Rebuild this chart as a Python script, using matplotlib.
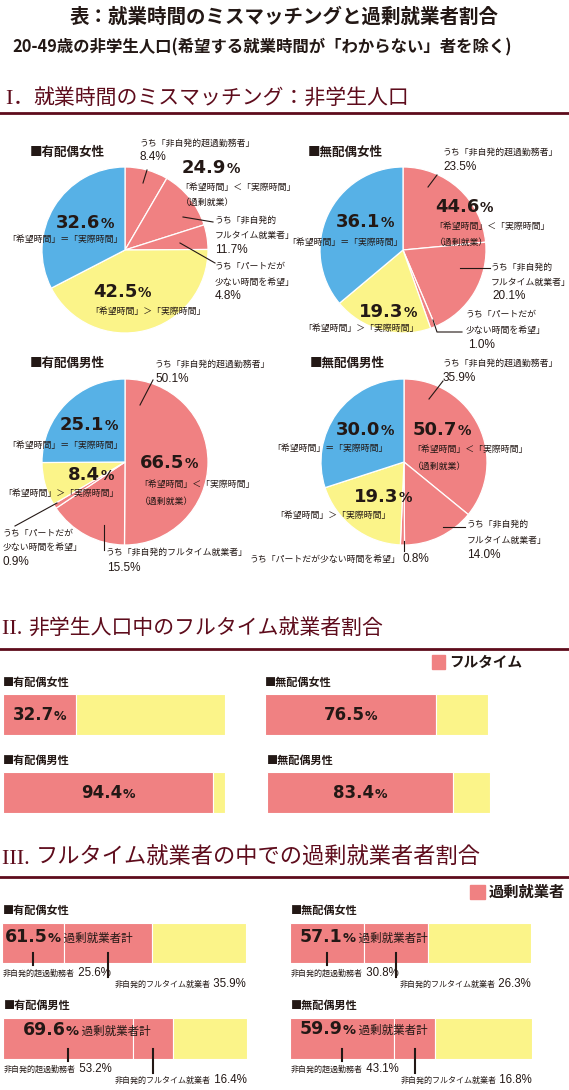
import matplotlib
matplotlib.use('Agg')
import matplotlib.pyplot as plt
from matplotlib.offsetbox import TextArea, HPacker, AnnotationBbox

plt.rcParams['font.family'] = ['Noto Sans CJK JP', 'DejaVu Sans']

# --- data (percent) ---
groups = ['有配偶女性', '無配偶女性', '有配偶男性', '無配偶男性']
# I. mismatch of working hours (pie)
over_overtime = [8.4, 23.5, 50.1, 35.9]   # うち「非自発的超過勤務者」
over_fulltime = [11.7, 20.1, 15.5, 14.0]  # うち「非自発的フルタイム就業者」
over_part = [4.8, 1.0, 0.9, 0.8]          # うち「パートだが少ない時間を希望」
over_total = [24.9, 44.6, 66.5, 50.7]     # 「希望時間」<「実際時間」
under_hours = [42.5, 19.3, 8.4, 19.3]     # 「希望時間」>「実際時間」
equal_hours = [32.6, 36.1, 25.1, 30.0]    # 「希望時間」=「実際時間」
# II. full-time share
fulltime_share = [32.7, 76.5, 94.4, 83.4]
# III. excess workers among full-timers
excess_total = [61.5, 57.1, 69.6, 59.9]
excess_overtime = [25.6, 30.8, 53.2, 43.1]
excess_fulltime = [35.9, 26.3, 16.4, 16.8]

W, H = 569, 1090
PINK = '#F08182'
YELLOW = '#FBF489'
BLUE = '#57B1E6'
MAROON = '#5E0C1C'
INK = '#231815'
CJK = ['Noto Sans CJK JP', 'DejaVu Sans']
NUM = 'Liberation Sans'
SMALL = 6.4

fig = plt.figure(figsize=(W / 100, H / 100), dpi=100)
fig.patch.set_facecolor('white')


def px_axes(x0, y0, w, h):
    return fig.add_axes([x0 / W, 1 - (y0 + h) / H, w / W, h / H])


# pies
pie_centers = [(125, 250), (403, 250), (125, 462), (404, 462)]
R = 83
for i, (cx, cy) in enumerate(pie_centers):
    a = px_axes(cx - R, cy - R, 2 * R, 2 * R)
    vals = [over_overtime[i], over_fulltime[i], over_part[i], under_hours[i], equal_hours[i]]
    a.pie(vals, colors=[PINK, PINK, PINK, YELLOW, BLUE], startangle=90, counterclock=False,
          wedgeprops=dict(edgecolor='white', linewidth=0.9))
    a.set_xlim(-1, 1)
    a.set_ylim(-1, 1)
    a.axis('off')

# II bars
bar2_boxes = [(3, 694, 222, 41), (265, 694, 223, 41), (3, 772, 222, 41), (267, 772, 223, 41)]
bar2_axes = []
for i, (x0, y0, w, h) in enumerate(bar2_boxes):
    a = px_axes(x0, y0, w, h)
    a.barh(0, fulltime_share[i], height=1, color=PINK, edgecolor='white', linewidth=0.8)
    a.barh(0, 100 - fulltime_share[i], left=fulltime_share[i], height=1, color=YELLOW,
           edgecolor='white', linewidth=0.8)
    a.set_xlim(0, 100)
    a.set_ylim(-0.5, 0.5)
    a.axis('off')
    bar2_axes.append(a)

# III bars
bar3_boxes = [(2, 923, 244, 40), (290, 923, 241, 40), (3, 1018, 244, 41), (290, 1018, 242, 41)]
bar3_axes = []
for i, (x0, y0, w, h) in enumerate(bar3_boxes):
    a = px_axes(x0, y0, w, h)
    a.barh(0, excess_overtime[i], height=1, color=PINK, edgecolor='white', linewidth=0.8)
    a.barh(0, excess_fulltime[i], left=excess_overtime[i], height=1, color=PINK,
           edgecolor='white', linewidth=0.8)
    a.barh(0, 100 - excess_total[i], left=excess_total[i], height=1, color=YELLOW,
           edgecolor='white', linewidth=0.8)
    a.set_xlim(0, 100)
    a.set_ylim(-0.5, 0.5)
    a.axis('off')
    tr = a.get_xaxis_transform()
    a.plot([excess_overtime[i] / 2] * 2, [0.25, -0.05], transform=tr, color=INK, lw=1.5, clip_on=False)
    mid2 = excess_overtime[i] + excess_fulltime[i] / 2
    a.plot([mid2] * 2, [0.25, -0.35], transform=tr, color=INK, lw=1.5, clip_on=False)
    bar3_axes.append(a)

# overlay for texts
ov = fig.add_axes([0, 0, 1, 1])
ov.set_xlim(0, W)
ov.set_ylim(H, 0)
ov.axis('off')
ov.patch.set_alpha(0)


def txt(x, y, s, size=SMALL, ha='left', **kw):
    kw.setdefault('color', INK)
    ov.text(x, y, s, fontsize=size, ha=ha, va='center', **kw)


def mixed(ax, x, y, parts, align=(0, 0.5), color=INK, sep=0):
    kids = [TextArea(s, textprops=dict(fontsize=fs, color=color, fontweight=fw, family=fam))
            for s, fs, fw, fam in parts]
    box = HPacker(children=kids, align='baseline', pad=0, sep=sep)
    ax.add_artist(AnnotationBbox(box, (x, y), xycoords='data', frameon=False,
                                 box_alignment=align, pad=0))


def pct(ax, x, y, val, size=13, align=(0, 0.5), tail=None):
    parts = [(f'{val:.1f}', size, 'bold', 'DejaVu Sans'), ('%', size * 0.75, 'bold', 'DejaVu Sans')]
    if tail:
        parts.append((tail, 8.3, 'normal', CJK))
    mixed(ax, x, y, parts, align=align)


def line(xs, ys, lw=0.8):
    ov.plot(xs, ys, color=INK, lw=lw)


# titles
txt(284, 17, '表：就業時間のミスマッチングと過剰就業者割合', 14, ha='center', fontweight='bold')
txt(262, 47, '20-49歳の非学生人口(希望する就業時間が「わからない」者を除く)', 11.8, ha='center',
    fontweight='bold')

# section headers
mixed(ov, 5, 98, [('I', 16, 'normal', 'Liberation Serif'), ('．', 15, 'normal', CJK),
                  ('就業時間のミスマッチング：非学生人口', 15, 'normal', CJK)], color=MAROON)
ov.plot([0, W], [113, 113], color=MAROON, lw=2)
mixed(ov, 2, 628, [('II. ', 16, 'normal', 'Liberation Serif'),
                   ('非学生人口中のフルタイム就業者割合', 15, 'normal', CJK)], color=MAROON)
ov.plot([0, W], [649, 649], color=MAROON, lw=2)
mixed(ov, 2, 857, [('III. ', 16, 'normal', 'Liberation Serif'),
                   ('フルタイム就業者の中での過剰就業者者割合', 16, 'normal', CJK)], color=MAROON)
ov.plot([0, W], [877, 877], color=MAROON, lw=2)

# ---- pie labels ----
EQ = '「希望時間」＝「実際時間」'
LT = '「希望時間」＜「実際時間」'
GT = '「希望時間」＞「実際時間」'
OVR = '（過剰就業）'

# 有配偶女性
txt(30, 152, '■' + groups[0], 9, fontweight='bold')
txt(140, 143, 'うち「非自発的超過勤務者」')
txt(140, 157, f'{over_overtime[0]}%', 8.5, family=NUM)
line([147, 143], [170, 183])
pct(ov, 182, 168, over_total[0])
txt(180, 187, LT)
txt(181, 202, OVR)
line([183, 213], [217, 222])
txt(215, 220, 'うち「非自発的')
txt(215, 235, 'フルタイム就業者」')
txt(215, 250, f'{over_fulltime[0]}%', 8.5, family=NUM)
line([180, 215], [243, 263])
txt(215, 267, 'うち「パートだが')
txt(215, 282, '少ない時間を希望」')
txt(215, 296, f'{over_part[0]}%', 8.5, family=NUM)
pct(ov, 85, 223, equal_hours[0], align=(0.5, 0.5))
txt(65, 239, EQ, ha='center')
pct(ov, 122, 292, under_hours[0], align=(0.5, 0.5))
txt(148, 311, GT, ha='center')

# 無配偶女性
txt(308, 152, '■' + groups[1], 9, fontweight='bold')
txt(443, 152, 'うち「非自発的超過勤務者」')
txt(443, 167, f'{over_overtime[1]}%', 8.5, family=NUM)
line([428, 437], [187, 175])
pct(ov, 435, 207, over_total[1])
txt(434, 226, LT)
txt(435, 242, OVR)
line([460, 490], [268, 268])
txt(491, 267, 'うち「非自発的')
txt(491, 282, 'フルタイム就業者」')
txt(492, 296, f'{over_fulltime[1]}%', 8.5, family=NUM)
line([433, 437, 462], [320, 332, 332])
txt(466, 315, 'うち「パートだが')
txt(466, 330, '少ない時間を希望」')
txt(468, 345, f'{over_part[1]}%', 8.5, family=NUM)
pct(ov, 365, 222, equal_hours[1], align=(0.5, 0.5))
txt(345, 242, EQ, ha='center')
pct(ov, 388, 312, under_hours[1], align=(0.5, 0.5))
txt(361, 328, GT, ha='center')

# 有配偶男性
txt(30, 363, '■' + groups[2], 9, fontweight='bold')
txt(155, 364, 'うち「非自発的超過勤務者」')
txt(155, 379, f'{over_overtime[2]}%', 8.5, family=NUM)
line([140, 153], [405, 380])
pct(ov, 89, 425, equal_hours[2], align=(0.5, 0.5))
txt(65, 445, EQ, ha='center')
pct(ov, 140, 463, over_total[2])
txt(139, 484, LT)
txt(140, 501, OVR)
pct(ov, 91, 475, under_hours[2], align=(0.5, 0.5))
txt(61, 493, GT, ha='center')
line([57, 15], [503, 526])
txt(3, 534, 'うち「パートだが')
txt(3, 547, '少ない時間を希望」')
txt(3, 562, f'{over_part[2]}%', 8.5, family=NUM)
line([104, 104], [525, 550])
txt(106, 552, 'うち「非自発的フルタイム就業者」')
txt(107, 568, f'{over_fulltime[2]}%', 8.5, family=NUM)

# 無配偶男性
txt(310, 363, '■' + groups[3], 9, fontweight='bold')
txt(443, 363, 'うち「非自発的超過勤務者」')
txt(443, 378, f'{over_overtime[3]}%', 8.5, family=NUM)
line([429, 443], [399, 381])
pct(ov, 365, 430, equal_hours[3], align=(0.5, 0.5))
txt(330, 448, EQ, ha='center')
pct(ov, 413, 430, over_total[3])
txt(412, 449, LT)
txt(413, 466, OVR)
pct(ov, 383, 497, under_hours[3], align=(0.5, 0.5))
txt(333, 515, GT, ha='center')
line([443, 465], [527, 527])
txt(467, 524, 'うち「非自発的')
txt(467, 540, 'フルタイム就業者」')
txt(467, 555, f'{over_fulltime[3]}%', 8.5, family=NUM)
line([404, 404], [541, 551])
txt(400, 559, 'うち「パートだが少ない時間を希望」', ha='right')
txt(403, 559, f'{over_part[3]}%', 8.5, family=NUM)

# ---- section II labels ----
ov.add_patch(plt.Rectangle((432, 655), 13, 14, color=PINK))
txt(449, 662, 'フルタイム', 10.5, fontweight='bold')
for i, (x0, y0, w, h) in enumerate(bar2_boxes):
    txt(x0, y0 - 12, '■' + groups[i], 8, fontweight='bold')
    pct(bar2_axes[i], fulltime_share[i] / 2, 0, fulltime_share[i], size=12, align=(0.5, 0.5))

# ---- section III labels ----
ov.add_patch(plt.Rectangle((470, 885), 15, 14, color=PINK))
txt(489, 892, '過剰就業者', 11, fontweight='bold')
big_pos = [(5, 937), (300, 937), (23, 1030), (300, 1029)]
for i, (x0, y0, w, h) in enumerate(bar3_boxes):
    txt(x0 + 1, y0 - 13, '■' + groups[i], 8, fontweight='bold')
    pct(ov, big_pos[i][0], big_pos[i][1], excess_total[i], size=12.5, tail=' 過剰就業者計')
    bottom = y0 + h
    mixed(ov, x0 + 1, bottom + 10, [('非自発的超過勤務者', 5.8, 'normal', CJK),
                                    (f' {excess_overtime[i]}%', 8.3, 'normal', NUM)])
    mixed(ov, x0 + w, bottom + 21, [('非自発的フルタイム就業者', 5.8, 'normal', CJK),
                                    (f' {excess_fulltime[i]}%', 8.3, 'normal', NUM)], align=(1, 0.5))

fig.savefig('out.png', dpi=100, facecolor='white')
